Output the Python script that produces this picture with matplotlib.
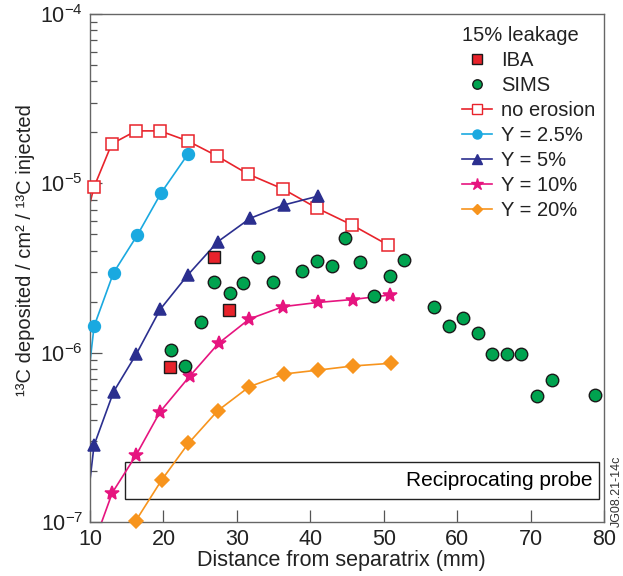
import matplotlib
matplotlib.use("Agg")
import matplotlib.pyplot as plt
from matplotlib.lines import Line2D
from matplotlib.patches import Rectangle

plt.rcParams['font.family'] = ['Liberation Sans', 'DejaVu Sans']
plt.rcParams['mathtext.fontset'] = 'custom'
plt.rcParams['mathtext.rm'] = 'Liberation Sans'
plt.rcParams['mathtext.it'] = 'Liberation Sans:italic'
plt.rcParams['mathtext.bf'] = 'Liberation Sans:bold'

# model curves (first point of each line sits outside the axes, clipped)
x_noero = [8.5, 10.54, 12.96, 16.26, 19.53, 23.3, 27.3, 31.5, 36.3, 40.9, 45.7, 50.6]
y_noero = [4.2e-6, 9.5e-6, 1.71e-5, 2.04e-5, 2.04e-5, 1.78e-5, 1.45e-5, 1.135e-5, 9.25e-6, 7.14e-6, 5.67e-6, 4.32e-6]

x_y25 = [9.0, 10.55, 13.2, 16.45, 19.7, 23.3]
y_y25 = [3.65e-7, 1.43e-6, 2.96e-6, 4.95e-6, 8.8e-6, 1.48e-5]

x_y5 = [9.0, 10.55, 13.2, 16.3, 19.55, 23.3, 27.4, 31.8, 36.4, 41.1]
y_y5 = [7.5e-8, 2.84e-7, 5.87e-7, 9.8e-7, 1.80e-6, 2.87e-6, 4.52e-6, 6.21e-6, 7.45e-6, 8.41e-6]

x_y10 = [11.0, 13.04, 16.27, 19.55, 23.6, 27.5, 31.7, 36.3, 41.1, 45.8, 50.8]
y_y10 = [8.5e-8, 1.49e-7, 2.48e-7, 4.48e-7, 7.28e-7, 1.135e-6, 1.58e-6, 1.87e-6, 1.98e-6, 2.06e-6, 2.19e-6]

x_y20 = [16.26, 19.76, 23.39, 27.39, 31.69, 36.42, 41.09, 45.78, 50.95]
y_y20 = [1.02e-7, 1.77e-7, 2.91e-7, 4.54e-7, 6.29e-7, 7.48e-7, 7.89e-7, 8.34e-7, 8.65e-7]

# measurements
x_iba = [20.89, 26.89, 28.93]
y_iba = [8.26e-7, 3.66e-6, 1.79e-6]

x_sims = [21.03, 22.98, 25.08, 26.89, 29.07, 30.88, 32.92, 34.88, 38.83, 40.95, 42.92, 44.73, 46.77,
          48.68, 50.86, 52.77, 56.85, 58.9, 60.84, 62.88, 64.79, 66.75, 68.66, 70.92, 72.88, 78.77]
y_sims = [1.035e-6, 8.34e-7, 1.51e-6, 2.62e-6, 2.26e-6, 2.57e-6, 3.66e-6, 2.62e-6, 3.03e-6, 3.48e-6, 3.26e-6, 4.73e-6, 3.44e-6,
          2.17e-6, 2.83e-6, 3.52e-6, 1.85e-6, 1.44e-6, 1.60e-6, 1.31e-6, 9.8e-7, 9.8e-7, 9.8e-7, 5.56e-7, 6.89e-7, 5.62e-7]

RED = '#e8232b'
CYAN = '#1aa9e0'
NAVY = '#2b2f8f'
PINK = '#e6147f'
ORANGE = '#f7941d'
GREEN = '#00a34f'

fig = plt.figure(figsize=(6.23, 5.76), dpi=100)
ax = fig.add_axes([0.1445, 0.0938, 0.825, 0.8819])

def model(x, y, color, marker, ms, skip_first=True, mfc=None):
    ax.plot(x, y, '-', color=color, lw=1.2, zorder=2)
    xs, ys = (x[1:], y[1:]) if skip_first else (x, y)
    ax.plot(xs, ys, ls='none', marker=marker, ms=ms, color=color,
            mfc=mfc if mfc else color, mec=color, mew=1.1, clip_on=False, zorder=3)

model(x_noero, y_noero, RED, 's', 8.3, mfc='white')
model(x_y25, y_y25, CYAN, 'o', 8.5)
model(x_y5, y_y5, NAVY, '^', 8.5)
model(x_y10, y_y10, PINK, '*', 10.5)
model(x_y20, y_y20, ORANGE, 'D', 7, skip_first=False)

ax.plot(x_sims, y_sims, ls='none', marker='o', ms=9, mfc=GREEN, mec='#1a1a1a', mew=1.0, zorder=4, clip_on=False)
ax.plot(x_iba, y_iba, ls='none', marker='s', ms=8, mfc=RED, mec='#1a1a1a', mew=1.0, zorder=4)

ax.add_patch(Rectangle((14.77, 1.36e-7), 79.3 - 14.77, 2.27e-7 - 1.36e-7,
                       fill=False, ec='#222222', lw=1.0, zorder=1))
ax.text(78.4, 1.76e-7, 'Reciprocating probe', ha='right', va='center', fontsize=15)

ax.set_yscale('log')
ax.set_xlim(10, 80)
ax.set_ylim(1e-7, 1e-4)
ax.set_xticks([10, 20, 30, 40, 50, 60, 70, 80])

ax.tick_params(axis='both', which='major', direction='in', length=8.5, width=0.9,
               labelsize=15.5, colors='#555555', labelcolor='#222222', pad=5)
ax.tick_params(axis='y', which='minor', direction='in', length=4.8, width=0.9, colors='#555555')
for sp in ax.spines.values():
    sp.set_color('#666666')
    sp.set_linewidth(1.0)

ax.set_xlabel('Distance from separatrix (mm)', fontsize=15.5, color='#222222', labelpad=1)
ax.xaxis.set_label_coords(0.49, -0.055)
ax.set_ylabel('¹³C deposited / cm² / ¹³C injected', fontsize=14.5, color='#222222')
ax.yaxis.set_label_coords(-0.108, 0.535)

handles = [
    Line2D([], [], ls='none', marker='s', ms=6.8, mfc=RED, mec='#1a1a1a'),
    Line2D([], [], ls='none', marker='o', ms=6.8, mfc=GREEN, mec='#1a1a1a'),
    Line2D([], [], color=RED, lw=1.2, marker='s', ms=7, mfc='white', mec=RED),
    Line2D([], [], color=CYAN, lw=1.2, marker='o', ms=6.5),
    Line2D([], [], color=NAVY, lw=1.2, marker='^', ms=6.5),
    Line2D([], [], color=PINK, lw=1.2, marker='*', ms=9),
    Line2D([], [], color=ORANGE, lw=1.2, marker='D', ms=5.5),
]
labels = ['IBA', 'SIMS', 'no erosion', 'Y = 2.5%', 'Y = 5%', 'Y = 10%', 'Y = 20%']
leg = ax.legend(handles, labels, title='15% leakage', loc='upper right',
                bbox_to_anchor=(1.0, 0.995), frameon=False, fontsize=14.5, title_fontsize=14.5,
                handlelength=1.45, handletextpad=0.45, labelspacing=0.3, borderaxespad=0.0,
                borderpad=0.45, alignment='left')
for t in leg.get_texts():
    t.set_color('#222222')
leg.get_title().set_color('#222222')

fig.text(0.9895, 1 - 527 / 576, 'JG08.21-14c', rotation=90, fontsize=9, ha='center', va='bottom', color='#333333')

fig.savefig('out.png', dpi=100)
